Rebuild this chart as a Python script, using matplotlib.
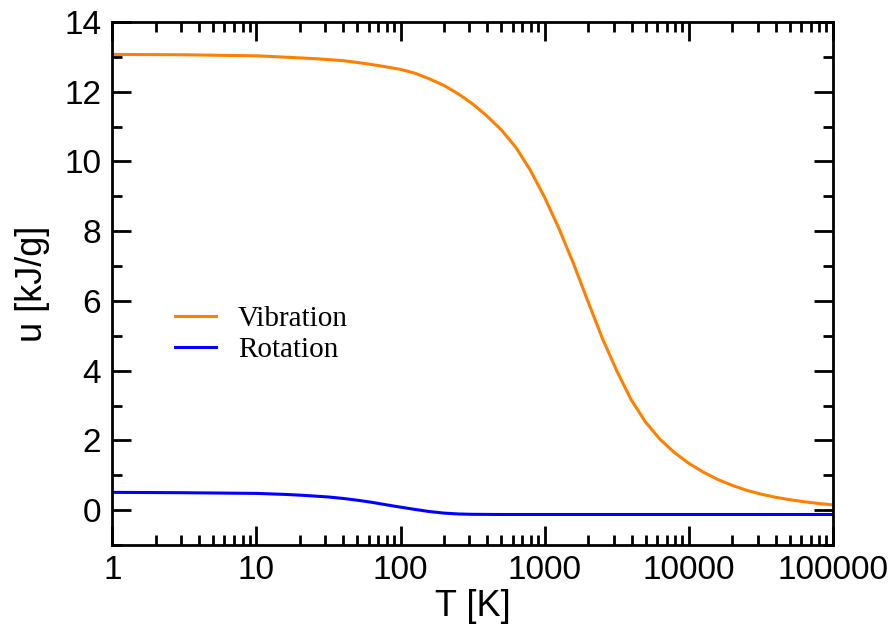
import numpy as np
import matplotlib
matplotlib.use("Agg")
import matplotlib.pyplot as plt
from matplotlib.ticker import FixedLocator, LogLocator, NullFormatter

# Vibration contribution
t_vib = [1, 3, 10, 16, 25, 32, 40, 50, 63, 79, 100, 126, 158, 200, 251, 316,
         398, 501, 631, 794, 1000, 1259, 1585, 1995, 2512, 3162, 3981, 5012,
         6310, 7943, 10000, 12589, 15849, 19953, 25119, 31623, 39811, 50119,
         63096, 79433, 100000]
u_vib = [13.07, 13.06, 13.03, 12.99, 12.95, 12.92, 12.89, 12.84, 12.78, 12.715,
         12.64, 12.53, 12.37, 12.18, 11.94, 11.65, 11.30, 10.90, 10.40, 9.75,
         8.96, 8.06, 7.06, 5.98, 4.92, 3.99, 3.16, 2.52, 2.03, 1.65,
         1.34, 1.09, 0.88, 0.71, 0.57, 0.46, 0.37, 0.30, 0.24, 0.19,
         0.15]

# Rotation contribution
t_rot = [1, 3, 10, 16, 20, 25, 32, 40, 50, 63, 79, 100, 126, 158, 200, 251,
         316, 501, 1000, 10000, 100000]
u_rot = [0.51, 0.50, 0.48, 0.45, 0.43, 0.405, 0.375, 0.335, 0.285, 0.225,
         0.155, 0.085, 0.02, -0.04, -0.085, -0.11, -0.12, -0.125, -0.125,
         -0.125, -0.125]

x_ticks = [1, 10, 100, 1000, 10000, 100000]
x_labels = ["1", "10", "100", "1000", "10000", "100000"]
y_ticks = [0, 2, 4, 6, 8, 10, 12, 14]

plt.rcParams['font.family'] = ['Liberation Sans', 'DejaVu Sans']

fig = plt.figure(figsize=(8.95, 6.39), dpi=100)
ax = fig.add_axes([0.1255, 0.1471, 0.8053, 0.8185])

ax.plot(t_vib, u_vib, color="#ff8000", lw=2.2, label="Vibration")
ax.plot(t_rot, u_rot, color="#0000ff", lw=2.2, label="Rotation")

ax.set_xscale("log")
ax.set_xlim(1, 100000)
ax.set_ylim(-1, 14)

ax.xaxis.set_major_locator(FixedLocator(x_ticks))
ax.set_xticklabels(x_labels)
ax.xaxis.set_minor_locator(LogLocator(base=10, subs=np.arange(2, 10)))
ax.xaxis.set_minor_formatter(NullFormatter())
ax.yaxis.set_major_locator(FixedLocator(y_ticks))
ax.yaxis.set_minor_locator(FixedLocator(np.arange(-1, 15, 2)))

ax.tick_params(which="both", direction="in", top=True, right=True,
               width=2.0, labelsize=24)
ax.tick_params(which="major", length=14)
ax.tick_params(which="minor", length=7)
ax.tick_params(axis="x", pad=7)
ax.tick_params(axis="y", pad=8)
for s in ax.spines.values():
    s.set_linewidth(2.0)

ax.set_xlabel("T [K]", fontsize=26, labelpad=2)
ax.set_ylabel("u [kJ/g]", fontsize=26, labelpad=10)

leg = ax.legend(loc="upper left", bbox_to_anchor=(0.087, 0.457),
                frameon=False, borderpad=0, borderaxespad=0,
                handlelength=1.4, handletextpad=0.75, labelspacing=0.15,
                prop={"family": "Liberation Serif", "size": 21})

fig.savefig("out.png", dpi=100)
